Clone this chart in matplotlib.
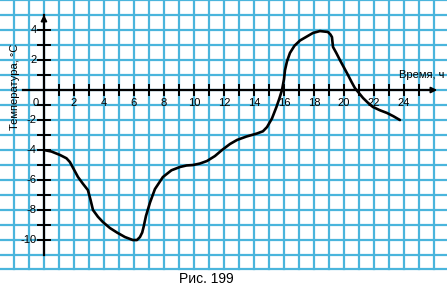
import matplotlib.pyplot as plt
import numpy as np

plt.rcParams['font.family'] = ['Liberation Sans', 'DejaVu Sans']

# temperature curve (hours, degrees C)
hours = [0, 0.5, 1.07, 1.5, 1.73, 2.0, 2.27, 2.6, 2.93, 3.1, 3.27, 3.6, 3.93, 4.4, 4.87,
         5.4, 5.93, 6.2, 6.4, 6.55, 6.65, 6.8, 7.07, 7.4, 7.93, 8.5, 9.07, 9.5, 9.93,
         10.4, 10.87, 11.4, 11.87, 12.4, 12.87, 13.5, 14.2, 14.6, 14.87, 15.2, 15.5,
         15.7, 15.87, 16.0, 16.07, 16.2, 16.4, 16.7, 17.07, 17.5, 17.93, 18.4, 18.93,
         19.1, 19.2, 19.27, 19.5, 19.73, 20.0, 20.27, 20.5, 20.73, 21.0, 21.27, 21.6,
         21.93, 22.4, 22.87, 23.3, 23.73]
temps = [-4.0, -4.1, -4.33, -4.55, -4.8, -5.3, -5.8, -6.25, -6.67, -7.3, -8.0, -8.45,
         -8.8, -9.2, -9.5, -9.8, -10.0, -10.0, -9.8, -9.5, -9.1, -8.4, -7.5, -6.6,
         -5.8, -5.35, -5.13, -5.03, -5.0, -4.9, -4.73, -4.4, -4.0, -3.6, -3.33, -3.1,
         -2.9, -2.75, -2.47, -1.9, -1.13, -0.55, 0.0, 0.7, 1.33, 1.9, 2.47, 2.95, 3.3,
         3.55, 3.8, 3.93, 3.87, 3.7, 3.53, 2.87, 2.45, 2.0, 1.5, 1.0, 0.55, 0.13, -0.2,
         -0.53, -0.85, -1.13, -1.35, -1.53, -1.75, -2.0]

x_labels = [2, 4, 6, 8, 10, 12, 14, 16, 18, 20, 22, 24]
y_labels = [4, 2, -2, -4, -6, -8, -10]

grid_col = '#4ab5dc'

fig = plt.figure(figsize=(4.47, 2.87), dpi=100)
ax = fig.add_axes([0, 0, 1, 1])
ax.set_xlim(-2.93, 26.87)
ax.set_ylim(-13.13, 6)
ax.axis('off')

# squared paper
for gx in range(-2, 27):
    ax.plot([gx, gx], [-11.9, 6], color=grid_col, lw=1.6, zorder=1)
for gy in range(-11, 7):
    ax.plot([-3, 27], [gy, gy], color=grid_col, lw=1.6, zorder=1)
ax.plot([-3, 27], [-11.9, -11.9], color=grid_col, lw=1.6, zorder=1)

# axes with arrows
ax.plot([-1.4, 26.0], [0, 0], color='black', lw=1.6, zorder=3)
ax.plot([0, 0], [-11.0, 5.0], color='black', lw=1.6, zorder=3)
ax.annotate('', xy=(26.4, 0), xytext=(25.6, 0),
            arrowprops=dict(arrowstyle='-|>', color='black', lw=1.2,
                            mutation_scale=9), zorder=4)
ax.annotate('', xy=(0, 5.2), xytext=(0, 4.5),
            arrowprops=dict(arrowstyle='-|>', color='black', lw=1.2,
                            mutation_scale=9), zorder=4)

# tick marks
for tx in range(1, 26):
    ax.plot([tx, tx], [-0.33, 0.33], color='black', lw=1.4, zorder=3)
for ty in range(-10, 5):
    if ty != 0:
        ax.plot([-0.4, 0.4], [ty, ty], color='black', lw=1.4, zorder=3)

for lx in x_labels:
    ax.text(lx, -0.5, str(lx), ha='center', va='top', fontsize=8, zorder=5)
for ly in y_labels:
    ax.text(-0.5, ly, str(ly), ha='right', va='center', fontsize=8, zorder=5)
ax.text(-0.35, -0.5, '0', ha='right', va='top', fontsize=8, zorder=5)

ax.text(-1.95, 0.2, 'Температура, °C', rotation=90, ha='center', va='center',
        fontsize=8, zorder=5)
ax.text(26.7, 1.0, 'Время, ч', ha='right', va='center', fontsize=8, zorder=5)

ax.plot(hours, temps, color='black', lw=1.9, solid_joinstyle='round',
        solid_capstyle='round', zorder=4)

ax.text(10.8, -12.6, 'Рис. 199', ha='center', va='center', fontsize=10)

fig.savefig('out.png', dpi=100)
